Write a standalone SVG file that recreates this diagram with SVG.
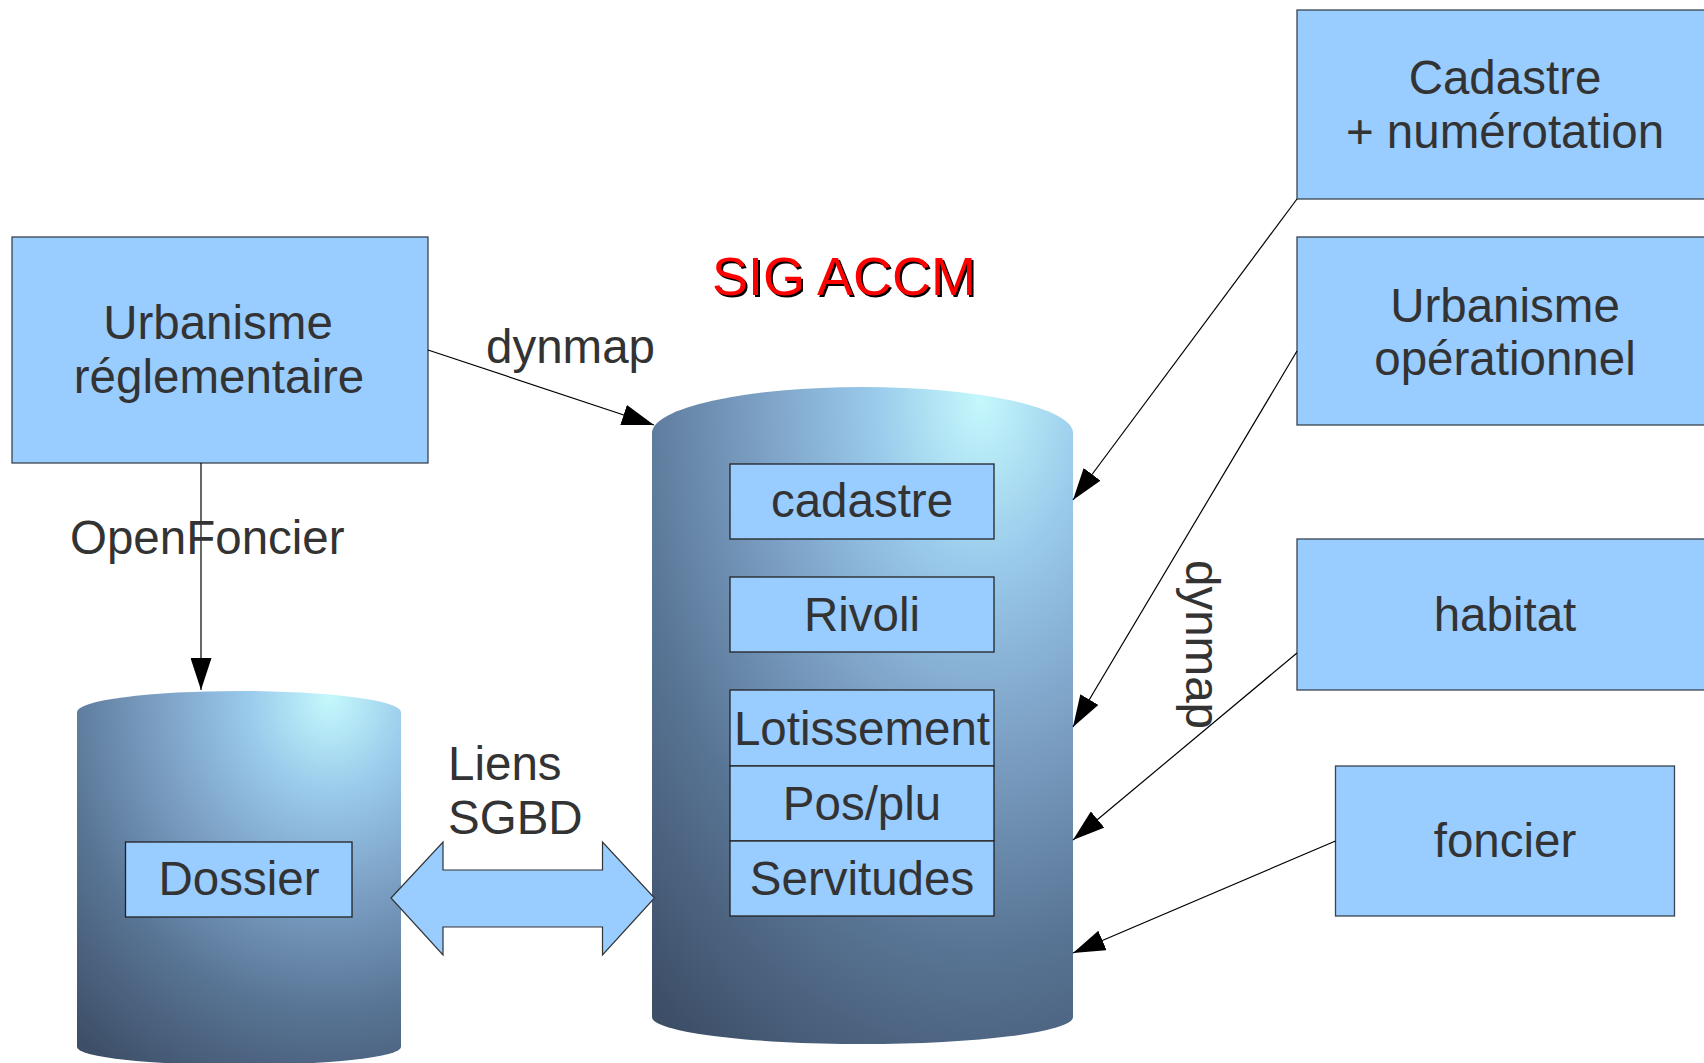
<svg xmlns="http://www.w3.org/2000/svg" width="1704" height="1063" viewBox="0 0 1704 1063">
<style>
.box{fill:#99ccff;stroke:#3a4450;stroke-width:1.3}
.ibox{fill:#99ccff;stroke:#222;stroke-width:1.3}
.t{font-family:"Liberation Sans",Arial,sans-serif;font-size:47.5px;fill:#333333}
.c{text-anchor:middle}
.conn{stroke:#000;stroke-width:1.2;fill:none;marker-end:url(#ah)}
</style>
<defs>
<marker id="ah" viewBox="0 0 32 21" markerWidth="32" markerHeight="21" refX="32" refY="10.5" orient="auto" markerUnits="userSpaceOnUse">
<path d="M0,0 L32,10.5 L0,21 z" fill="#000"/>
</marker>
<radialGradient id="cyl" cx="0.78" cy="0.02" r="1.2" fx="0.78" fy="0.02">
<stop offset="0" stop-color="#c4f8fc"/>
<stop offset="0.22" stop-color="#98c8ea"/>
<stop offset="0.45" stop-color="#7a9ec2"/>
<stop offset="0.7" stop-color="#587494"/>
<stop offset="1" stop-color="#3d4e67"/>
</radialGradient>
</defs>
<rect width="1704" height="1063" fill="#fff"/>

<g id="sig-accm-db">
<path d="M652,433 A210.5,46 0 0 1 1073,433 L1073,1017 A210.5,27 0 0 1 652,1017 Z" fill="url(#cyl)"/>
</g>
<g id="dossier-db">
<path d="M77,712 A162,21 0 0 1 401,712 L401,1047 A162,18 0 0 1 77,1047 Z" fill="url(#cyl)"/>
</g>

<g id="title">
<text x="846" y="297" class="t c" style="font-size:54px;fill:#000">SIG ACCM</text>
<text x="844" y="295" class="t c" style="font-size:54px;fill:#ff0000">SIG ACCM</text>
</g>

<g id="urbanisme-reglementaire">
<rect class="box" x="12" y="237" width="416" height="226"/>
<text class="t c" x="218" y="339">Urbanisme</text>
<text class="t c" x="219" y="393">réglementaire</text>
</g>

<g id="cadastre-numerotation">
<rect class="box" x="1297" y="10" width="417" height="189"/>
<text class="t c" x="1505" y="94">Cadastre</text>
<text class="t c" x="1505" y="148">+ numérotation</text>
</g>

<g id="urbanisme-operationnel">
<rect class="box" x="1297" y="237" width="417" height="188"/>
<text class="t c" x="1505" y="322">Urbanisme</text>
<text class="t c" x="1505" y="375">opérationnel</text>
</g>

<g id="habitat">
<rect class="box" x="1297" y="539" width="417" height="151"/>
<text class="t c" x="1505" y="631">habitat</text>
</g>

<g id="foncier">
<rect class="box" x="1335.5" y="766" width="339" height="150"/>
<text class="t c" x="1505" y="857">foncier</text>
</g>

<g id="cadastre">
<rect class="ibox" x="730" y="464" width="264" height="75"/>
<text class="t c" x="862" y="517">cadastre</text>
</g>
<g id="rivoli">
<rect class="ibox" x="730" y="577" width="264" height="75"/>
<text class="t c" x="862" y="631">Rivoli</text>
</g>
<g id="lotissement">
<rect class="ibox" x="730" y="690" width="264" height="76"/>
<text class="t c" x="862" y="745">Lotissement</text>
</g>
<g id="pos-plu">
<rect class="ibox" x="730" y="766" width="264" height="75"/>
<text class="t c" x="862" y="820">Pos/plu</text>
</g>
<g id="servitudes">
<rect class="ibox" x="730" y="841" width="264" height="75"/>
<text class="t c" x="862" y="895">Servitudes</text>
</g>
<g id="dossier">
<rect class="ibox" x="125.5" y="842" width="226.5" height="75"/>
<text class="t c" x="239" y="895">Dossier</text>
</g>

<g id="connectors">
<path class="conn" d="M428,350 L654,425"/>
<path class="conn" d="M201,463 L201,690"/>
<path class="conn" d="M1297,199 L1073,500"/>
<path class="conn" d="M1297,351 L1073,727"/>
<path class="conn" d="M1297,653 L1073,840"/>
<path class="conn" d="M1335.5,841 L1073,953"/>
<polygon id="liens-sgbd-arrow" points="391,898 443,842 443,870 602.5,870 602.5,842 654.5,898 602.5,955 602.5,927 443,927 443,955" fill="#99ccff" stroke="#333" stroke-width="1.2"/>
</g>

<g id="labels">
<text class="t" x="486" y="363">dynmap</text>
<text class="t" x="70" y="554">OpenFoncier</text>
<text class="t" x="448" y="780">Liens</text>
<text class="t" x="448" y="834">SGBD</text>
<text class="t" transform="translate(1186,560) rotate(90)">dynmap</text>
</g>
</svg>
